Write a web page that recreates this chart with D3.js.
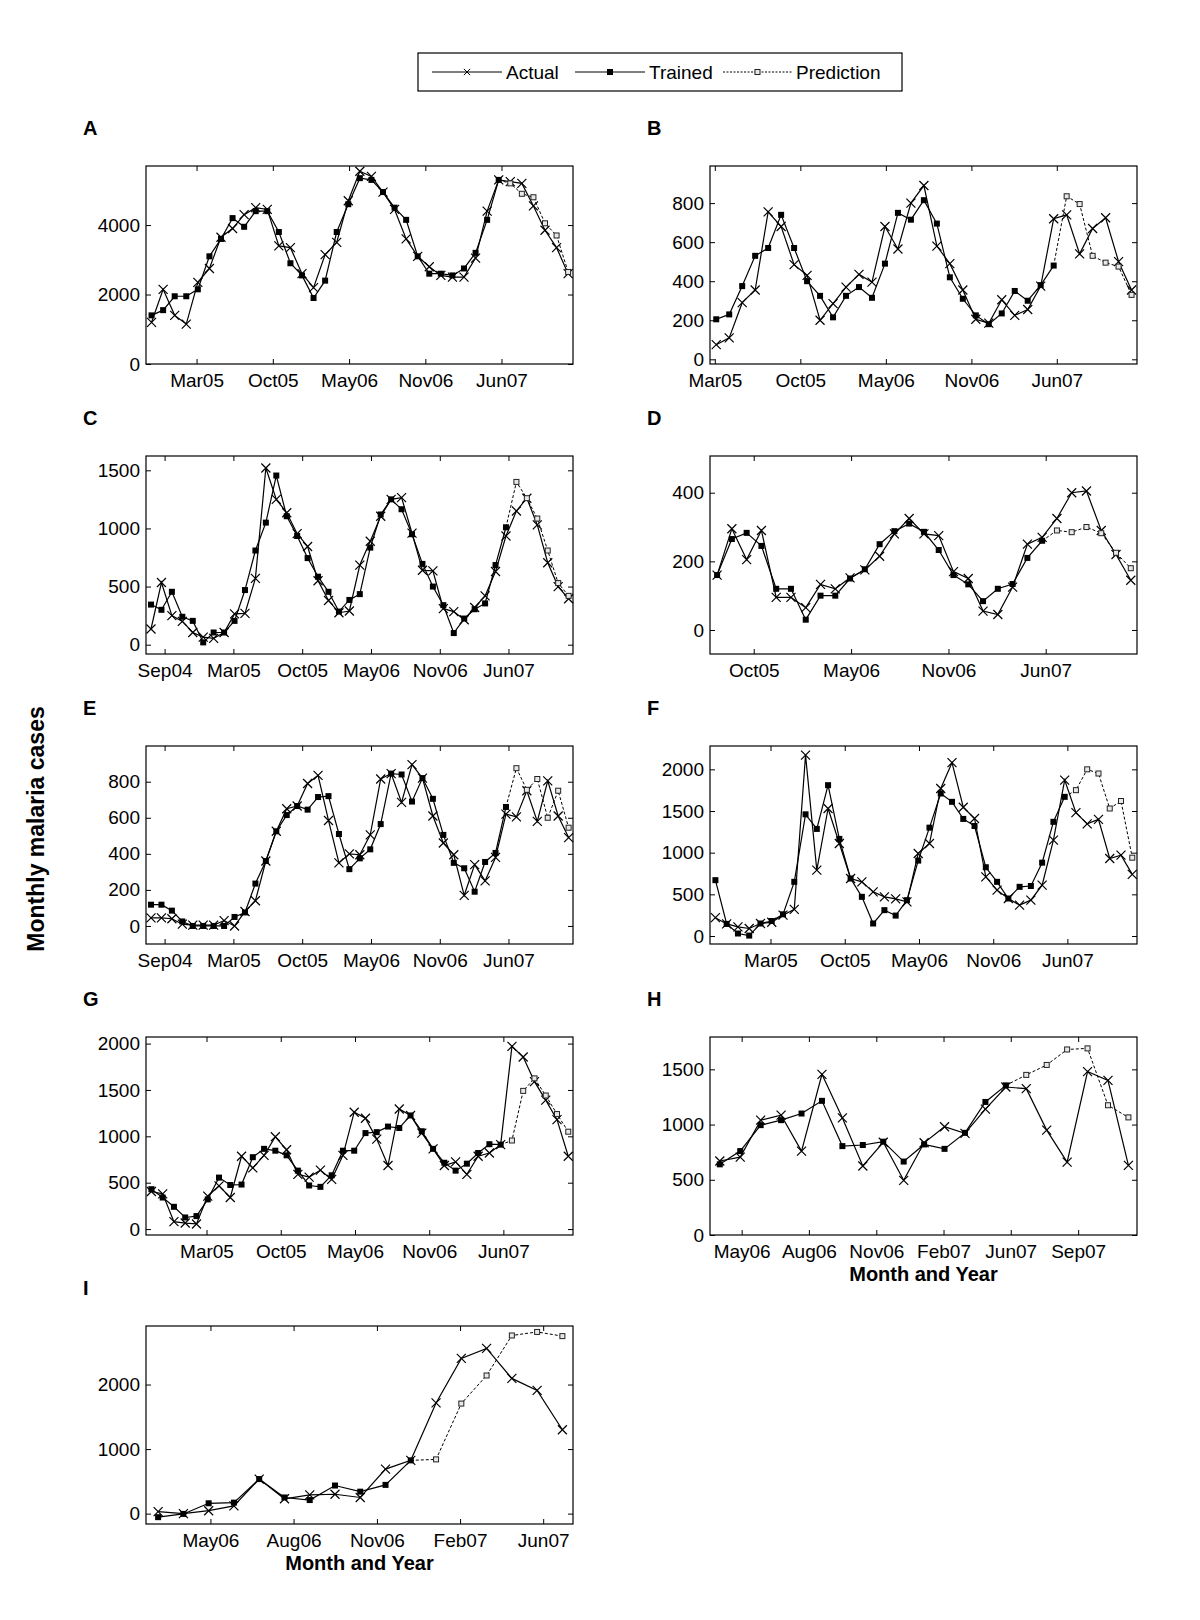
<!DOCTYPE html>
<html>
<head>
<meta charset="utf-8">
<script src="https://cdn.jsdelivr.net/npm/d3@7"></script>
<style>
  body { margin: 0; background: #fff; }
  text { font-family: "Liberation Sans", Arial, sans-serif; }
</style>
</head>
<body>
<svg id="chart" width="1200" height="1620"></svg>
<script>
// x is a month index: 0 = Nov04
const ticksLongPos = [-2.70, 3.89, 10.48, 17.07, 23.66, 30.24];
const ticksLongLab = ["Sep04", "Mar05", "Oct05", "May06", "Nov06", "Jun07"];
const ticksMidPos = [3.89, 10.48, 17.07, 23.66, 30.24];
const ticksMidLab = ["Mar05", "Oct05", "May06", "Nov06", "Jun07"];
const ticksDPos = [10.48, 17.07, 23.66, 30.24];
const ticksDLab = ["Oct05", "May06", "Nov06", "Jun07"];
const ticksHPos = [17.07, 20.36, 23.66, 26.95, 30.24, 33.54];
const ticksHLab = ["May06", "Aug06", "Nov06", "Feb07", "Jun07", "Sep07"];
const ticksIPos = [17.07, 20.36, 23.66, 26.95, 30.24];
const ticksILab = ["May06", "Aug06", "Nov06", "Feb07", "Jun07"];

const actualA = [1200, 2150, 1400, 1150, 2350, 2750, 3650, 3900, 4300, 4500, 4450, 3400, 3350, 2600, 2200, 3150, 3500, 4700, 5550, 5400, 4950, 4450, 3600, 3100, 2800, 2550, 2500, 2500, 3050, 4400, 5300, 5250, 5200, 4550, 3850, 3350, 2600];
const trainedA = [1400, 1550, 1950, 1950, 2150, 3100, 3600, 4200, 3950, 4400, 4400, 3800, 2900, 2550, 1900, 2400, 3800, 4600, 5350, 5300, 4950, 4500, 4150, 3100, 2600, 2600, 2550, 2750, 3200, 4150, 5300];
const predA = [5200, 4900, 4800, 4050, 3700, 2650];

const actualB = [75, 110, 290, 355, 755, 680, 485, 430, 200, 285, 370, 435, 395, 680, 565, 800, 890, 580, 490, 355, 205, 185, 305, 225, 255, 375, 720, 740, 540, 670, 725, 500, 355];
const trainedB = [205, 230, 375, 530, 570, 740, 570, 400, 325, 215, 325, 370, 315, 490, 750, 715, 815, 695, 420, 310, 225, 180, 235, 350, 300, 380, 480];
const predB = [835, 795, 530, 495, 475, 330];

const actualC = [135, 535, 250, 200, 105, 65, 55, 105, 265, 270, 570, 1520, 1250, 1135, 955, 845, 550, 380, 275, 290, 685, 890, 1105, 1250, 1265, 960, 640, 635, 310, 285, 215, 320, 420, 630, 935, 1150, 1260, 1030, 705, 500, 395];
const trainedC = [345, 300, 455, 240, 205, 20, 105, 105, 205, 470, 810, 1050, 1455, 1105, 935, 745, 585, 455, 285, 385, 435, 835, 1120, 1250, 1165, 950, 695, 500, 340, 100, 225, 305, 355, 685, 1010];
const predC = [1400, 1260, 1085, 810, 530, 420];

const actualD = [160, 295, 205, 290, 95, 95, 65, 133, 120, 152, 175, 215, 280, 325, 280, 275, 170, 150, 55, 45, 125, 250, 270, 325, 400, 405, 290, 220, 145];
const trainedD = [160, 265, 283, 245, 120, 120, 30, 100, 100, 150, 177, 250, 288, 310, 286, 233, 160, 133, 84, 120, 134, 210, 260];
const predD = [290, 285, 300, 282, 225, 180];

const actualE = [45, 45, 40, 10, 5, 5, 5, 30, 0, 80, 140, 360, 525, 650, 665, 790, 835, 585, 350, 400, 395, 505, 815, 845, 685, 895, 820, 610, 460, 395, 170, 340, 250, 380, 620, 605, 750, 580, 805, 610, 490];
const trainedE = [118, 118, 85, 25, 0, 0, 0, 0, 50, 75, 235, 360, 525, 615, 665, 645, 715, 720, 510, 315, 375, 425, 565, 845, 840, 690, 820, 705, 505, 350, 320, 190, 355, 405, 660];
const predE = [875, 755, 815, 600, 750, 545];

const actualF = [220, 145, 110, 90, 150, 165, 250, 320, 2170, 790, 1530, 1110, 690, 650, 530, 470, 445, 410, 990, 1110, 1770, 2080, 1545, 1410, 710, 550, 450, 370, 430, 610, 1150, 1870, 1480, 1345, 1400, 930, 970, 740];
const trainedF = [670, 145, 30, 5, 150, 180, 260, 650, 1460, 1285, 1810, 1165, 690, 470, 150, 310, 245, 430, 905, 1300, 1710, 1610, 1405, 1320, 825, 650, 450, 590, 600, 880, 1370, 1670];
const predF = [1750, 2000, 1950, 1530, 1620, 940];

const actualG = [405, 380, 80, 65, 55, 355, 465, 340, 785, 660, 795, 995, 855, 590, 560, 635, 535, 795, 1260, 1195, 970, 685, 1295, 1225, 1035, 865, 685, 725, 590, 785, 820, 910, 1970, 1855, 1590, 1390, 1180, 785];
const trainedG = [430, 340, 240, 125, 140, 320, 555, 475, 480, 775, 865, 845, 795, 630, 470, 455, 580, 845, 845, 1035, 1045, 1105, 1090, 1225, 1055, 865, 715, 630, 705, 820, 915, 910];
const predG = [955, 1490, 1625, 1440, 1240, 1050];

const actualH = [670, 705, 1040, 1085, 760, 1455, 1060, 625, 840, 495, 835, 980, 920, 1140, 1340, 1325, 950, 660, 1480, 1400, 630];
const trainedH = [640, 760, 995, 1040, 1100, 1215, 805, 815, 845, 665, 820, 780, 925, 1205, 1355];
const predH = [1450, 1540, 1680, 1690, 1175, 1065];

const actualI = [30, 0, 45, 120, 535, 230, 290, 300, 250, 690, 825, 1715, 2405, 2560, 2095, 1910, 1300];
const trainedI = [-55, -5, 160, 170, 535, 250, 210, 435, 340, 445, 825];
const predI = [840, 1705, 2140, 2760, 2815, 2750];

const panels = [
  { id: "A", col: 0, row: 0, start: 0,  actual: actualA, trained: trainedA, pred: predA, yDomain: [0, 5700],    yTicks: [0, 2000, 4000], xPos: ticksMidPos, xLab: ticksMidLab },
  { id: "B", col: 1, row: 0, start: 4,  actual: actualB, trained: trainedB, pred: predB, yDomain: [-24, 990],   yTicks: [0, 200, 400, 600, 800], xPos: ticksMidPos, xLab: ticksMidLab },
  { id: "C", col: 0, row: 1, start: -4, actual: actualC, trained: trainedC, pred: predC, yDomain: [-80, 1623],  yTicks: [0, 500, 1000, 1500], xPos: ticksLongPos, xLab: ticksLongLab },
  { id: "D", col: 1, row: 1, start: 8,  actual: actualD, trained: trainedD, pred: predD, yDomain: [-70, 507],   yTicks: [0, 200, 400], xPos: ticksDPos, xLab: ticksDLab },
  { id: "E", col: 0, row: 2, start: -4, actual: actualE, trained: trainedE, pred: predE, yDomain: [-100, 998],  yTicks: [0, 200, 400, 600, 800], xPos: ticksLongPos, xLab: ticksLongLab },
  { id: "F", col: 1, row: 2, start: -1, actual: actualF, trained: trainedF, pred: predF, yDomain: [-96, 2280],  yTicks: [0, 500, 1000, 1500, 2000], xPos: ticksMidPos, xLab: ticksMidLab },
  { id: "G", col: 0, row: 3, start: -1, actual: actualG, trained: trainedG, pred: predG, yDomain: [-64, 2071],  yTicks: [0, 500, 1000, 1500, 2000], xPos: ticksMidPos, xLab: ticksMidLab },
  { id: "H", col: 1, row: 3, start: 16, actual: actualH, trained: trainedH, pred: predH, yDomain: [0, 1793],    yTicks: [0, 500, 1000, 1500], xPos: ticksHPos, xLab: ticksHLab, xTitle: true },
  { id: "I", col: 0, row: 4, start: 15, actual: actualI, trained: trainedI, pred: predI, yDomain: [-161, 2907], yTicks: [0, 1000, 2000], xPos: ticksIPos, xLab: ticksILab, xTitle: true }
];

const svg = d3.select("#chart");
const colX = [146, 710], boxW = 427;
const rowY = [166, 456, 746, 1037, 1326], boxH = 198;
const fontSize = 19;

const crossPath = "M-4.5,-4.5L4.5,4.5M-4.5,4.5L4.5,-4.5";

function styleAxis(g) {
  g.select(".domain").remove();
  g.selectAll(".tick line").attr("stroke", "#000").attr("stroke-width", 1);
  g.selectAll("text").attr("font-size", fontSize).attr("font-family", '"Liberation Sans", Arial, sans-serif').attr("fill", "#000");
}

panels.forEach(p => {
  const x0 = colX[p.col], y0 = rowY[p.row];
  const last = p.start + p.actual.length - 1;
  const x = d3.scaleLinear().domain([p.start - 0.48, last + 0.42]).range([x0, x0 + boxW]);
  const y = d3.scaleLinear().domain(p.yDomain).range([y0 + boxH, y0]);
  const g = svg.append("g");

  g.append("text")
    .attr("x", x0 - 63).attr("y", y0 - 31)
    .attr("font-size", 20).attr("font-weight", "bold")
    .text(p.id);

  g.append("rect")
    .attr("x", x0).attr("y", y0).attr("width", boxW).attr("height", boxH)
    .attr("fill", "none").attr("stroke", "#000").attr("stroke-width", 1.2);

  g.append("g").attr("transform", `translate(0,${y0 + boxH})`)
    .call(d3.axisBottom(x).tickValues(p.xPos).tickFormat((d, i) => p.xLab[i]).tickSize(-5).tickPadding(10))
    .call(styleAxis);
  g.append("g").attr("transform", `translate(0,${y0})`)
    .call(d3.axisTop(x).tickValues(p.xPos).tickFormat("").tickSize(-5))
    .call(styleAxis);
  g.append("g").attr("transform", `translate(${x0},0)`)
    .call(d3.axisLeft(y).tickValues(p.yTicks).tickFormat(d3.format("d")).tickSize(-5).tickPadding(6))
    .call(styleAxis);
  g.append("g").attr("transform", `translate(${x0 + boxW},0)`)
    .call(d3.axisRight(y).tickValues(p.yTicks).tickFormat("").tickSize(-5))
    .call(styleAxis);

  const actualPts = p.actual.map((v, i) => ({ m: p.start + i, v }));
  const trainedPts = p.trained.map((v, i) => ({ m: p.start + i, v }));
  const predPts = p.pred.map((v, i) => ({ m: p.start + p.trained.length + i, v }));
  const predLinePts = [trainedPts[trainedPts.length - 1]].concat(predPts);

  const line = d3.line().x(d => x(d.m)).y(d => y(d.v));

  g.append("path").datum(actualPts).attr("d", line)
    .attr("fill", "none").attr("stroke", "#000").attr("stroke-width", 1.2);
  g.append("path").datum(trainedPts).attr("d", line)
    .attr("fill", "none").attr("stroke", "#000").attr("stroke-width", 1.2);
  g.append("path").datum(predLinePts).attr("d", line)
    .attr("fill", "none").attr("stroke", "#000").attr("stroke-width", 1)
    .attr("stroke-dasharray", "3,2");

  g.selectAll(".xa").data(actualPts).join("path")
    .attr("transform", d => `translate(${x(d.m)},${y(d.v)})`)
    .attr("d", crossPath).attr("stroke", "#000").attr("stroke-width", 1.2).attr("fill", "none");
  g.selectAll(".sq").data(trainedPts).join("rect")
    .attr("x", d => x(d.m) - 3).attr("y", d => y(d.v) - 3)
    .attr("width", 6).attr("height", 6).attr("fill", "#000");
  g.selectAll(".op").data(predPts).join("rect")
    .attr("x", d => x(d.m) - 2.5).attr("y", d => y(d.v) - 2.5)
    .attr("width", 5).attr("height", 5)
    .attr("fill", "#e8e8e8").attr("stroke", "#222").attr("stroke-width", 1);

  if (p.xTitle) {
    g.append("text")
      .attr("x", x0 + boxW / 2).attr("y", y0 + boxH + 46)
      .attr("text-anchor", "middle")
      .attr("font-size", 20).attr("font-weight", "bold")
      .text("Month and Year");
  }
});

// y axis title
svg.append("text")
  .attr("transform", "translate(36,829) rotate(-90)")
  .attr("text-anchor", "middle").attr("dominant-baseline", "central")
  .attr("font-size", 23).attr("font-weight", "bold")
  .text("Monthly malaria cases");

// legend
const legend = svg.append("g");
legend.append("rect")
  .attr("x", 418).attr("y", 53).attr("width", 484).attr("height", 38)
  .attr("fill", "#fff").attr("stroke", "#000").attr("stroke-width", 1.2);
const ly = 72;
const legendItems = [
  { label: "Actual", x1: 432, x2: 502, dash: null, mark: "cross" },
  { label: "Trained", x1: 575, x2: 645, dash: null, mark: "filled" },
  { label: "Prediction", x1: 723, x2: 792, dash: "2,1.5", mark: "open" }
];
legendItems.forEach(it => {
  const mx = (it.x1 + it.x2) / 2;
  legend.append("line")
    .attr("x1", it.x1).attr("x2", it.x2).attr("y1", ly).attr("y2", ly)
    .attr("stroke", "#000").attr("stroke-width", 1)
    .attr("stroke-dasharray", it.dash);
  if (it.mark === "cross") {
    legend.append("path").attr("transform", `translate(${mx},${ly}) scale(0.7)`)
      .attr("d", crossPath).attr("stroke", "#000").attr("stroke-width", 1.4);
  } else if (it.mark === "filled") {
    legend.append("rect").attr("x", mx - 3).attr("y", ly - 3).attr("width", 6).attr("height", 6).attr("fill", "#000");
  } else {
    legend.append("rect").attr("x", mx - 2.5).attr("y", ly - 2.5).attr("width", 5).attr("height", 5)
      .attr("fill", "#e8e8e8").attr("stroke", "#222").attr("stroke-width", 1);
  }
  legend.append("text")
    .attr("x", it.x2 + 4).attr("y", ly).attr("dominant-baseline", "central")
    .attr("font-size", fontSize)
    .text(it.label);
});
</script>
</body>
</html>
